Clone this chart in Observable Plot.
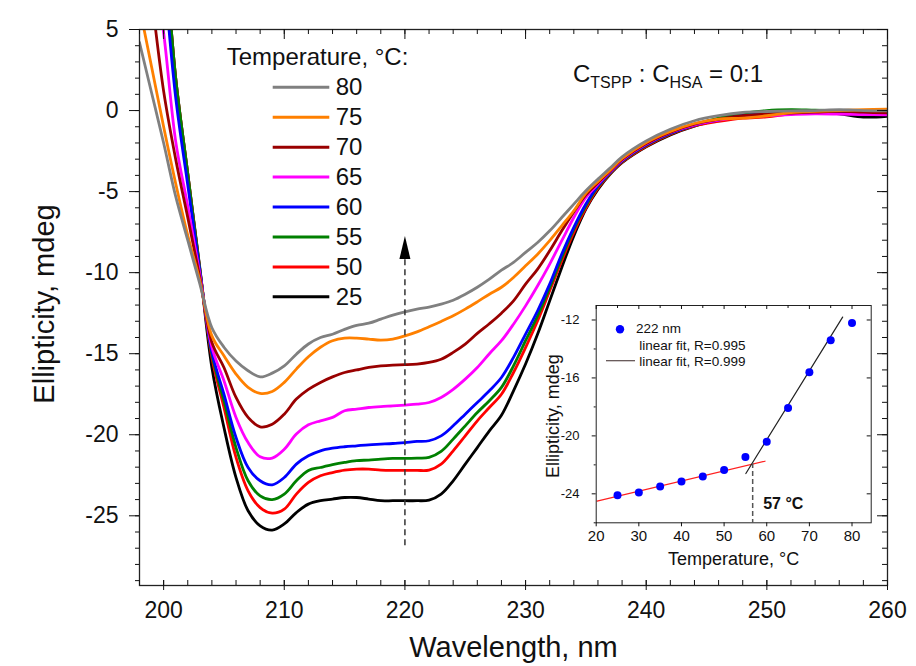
<!DOCTYPE html>
<html><head><meta charset="utf-8">
<script src="https://cdn.jsdelivr.net/npm/d3@7"></script>
<script src="https://cdn.jsdelivr.net/npm/@observablehq/plot@0.6"></script>
<style>
body{margin:0;background:#fff;font-family:"Liberation Sans",Arial,sans-serif;}
#wrap{position:relative;width:916px;height:666px;overflow:hidden;}
#wrap svg{position:absolute;}
</style></head><body><div id="wrap"></div>
<script>
// ---------- main chart data ----------
const wavelengths = [198,199,200,201,202,203,204,205,206,207,208,209,210,211,212,213,214,215,216,217,218,219,220,221,222,223,224,225,226,227,228,229,230,231,232,233,234,235,236,237,238,240,242,244,246,248,250,252,254,256,258,260];
const temps = ["80","75","70","65","60","55","50","25"];
const colors = ["#808080","#ff8000","#990000","#ff00ff","#0000ff","#008000","#ff0000","#000000"];
const t80 = [4.2,1.1,-2.0,-5.3,-8.0,-10.7,-13.4,-14.6,-15.45,-16.05,-16.43,-16.2,-15.75,-15.03,-14.4,-14.0,-13.8,-13.5,-13.25,-13.12,-12.87,-12.62,-12.42,-12.25,-12.12,-11.94,-11.7,-11.33,-10.9,-10.4,-9.85,-9.37,-8.75,-8.14,-7.42,-6.6,-5.77,-4.95,-4.23,-3.55,-2.85,-1.87,-1.15,-0.63,-0.32,-0.12,-0.06,-0.02,0.0,0.05,0.0,-0.02];
const t75 = [6.4,2.7,-1.0,-4.5,-7.7,-10.5,-13.9,-15.13,-16.26,-17.08,-17.45,-17.33,-16.77,-15.95,-15.19,-14.6,-14.2,-14.04,-14.04,-14.1,-14.16,-14.1,-13.9,-13.65,-13.34,-13.01,-12.66,-12.25,-11.8,-11.33,-10.9,-10.3,-9.58,-8.86,-8.03,-7.11,-6.18,-5.1,-4.37,-3.68,-2.96,-1.97,-1.29,-0.8,-0.53,-0.47,-0.32,-0.12,-0.05,0.0,0.05,0.09];
const t70 = [12.5,7.0,1.2,-3.0,-6.6,-10.3,-14.3,-15.85,-17.7,-18.93,-19.51,-19.35,-18.73,-17.8,-17.2,-16.77,-16.43,-16.16,-16.0,-15.85,-15.75,-15.7,-15.68,-15.64,-15.54,-15.34,-14.92,-14.41,-13.75,-13.15,-12.5,-11.74,-10.71,-9.78,-8.65,-7.42,-6.25,-5.2,-4.46,-3.74,-3.02,-2.03,-1.33,-0.84,-0.55,-0.32,-0.22,-0.15,-0.1,-0.05,-0.1,-0.15];
const t65 = [18,10,4.8,-1.9,-5.9,-10.1,-14.6,-16.67,-18.93,-20.48,-21.36,-21.44,-20.9,-19.96,-19.39,-19.14,-18.93,-18.52,-18.42,-18.32,-18.26,-18.22,-18.17,-18.11,-18.01,-17.7,-17.2,-16.57,-15.85,-15.0,-14.2,-13.18,-12.05,-10.81,-9.47,-8.03,-6.6,-5.36,-4.54,-3.78,-3.06,-2.07,-1.35,-0.88,-0.59,-0.39,-0.32,-0.25,-0.2,-0.22,-0.25,-0.26];
const t60 = [22,15,8.5,0.8,-4.6,-9.9,-14.9,-17.5,-20.17,-22.02,-22.84,-23.09,-22.64,-21.81,-21.3,-20.99,-20.83,-20.74,-20.68,-20.62,-20.58,-20.54,-20.48,-20.41,-20.37,-20.07,-19.45,-18.73,-18.01,-17.29,-16.47,-15.23,-13.79,-12.35,-10.71,-8.86,-7.21,-5.77,-4.64,-3.82,-3.1,-2.11,-1.4,-0.9,-0.59,-0.32,-0.22,-0.12,-0.08,-0.05,-0.1,-0.12];
const t55 = [24,17,10.5,2.0,-3.9,-9.8,-15.03,-17.9,-20.79,-22.84,-23.77,-24.0,-23.66,-22.84,-22.2,-22.02,-21.85,-21.71,-21.6,-21.56,-21.5,-21.46,-21.46,-21.44,-21.4,-21.03,-20.27,-19.45,-18.63,-17.9,-17.08,-15.75,-14.2,-12.66,-10.91,-9.06,-7.32,-5.88,-4.7,-3.86,-3.14,-2.15,-1.42,-0.88,-0.47,-0.18,0.0,0.05,0.02,0.0,-0.05,-0.1];
const t50 = [24,17,10.5,2.0,-3.9,-9.8,-15.23,-18.32,-21.4,-23.46,-24.5,-24.84,-24.59,-23.66,-22.94,-22.53,-22.33,-22.18,-22.12,-22.12,-22.18,-22.2,-22.2,-22.2,-22.18,-21.81,-20.99,-20.07,-19.14,-18.32,-17.5,-16.16,-14.62,-12.97,-11.12,-9.27,-7.52,-6.02,-4.79,-3.9,-3.18,-2.2,-1.46,-0.94,-0.67,-0.47,-0.39,-0.2,-0.1,-0.05,-0.1,-0.12];
const t25 = [24,17,10.5,2.0,-3.9,-9.7,-15.85,-19.55,-22.64,-24.69,-25.62,-25.88,-25.5,-24.8,-24.28,-24.07,-23.97,-23.87,-23.87,-23.97,-24.07,-24.07,-24.07,-24.07,-24.03,-23.66,-22.84,-21.81,-20.79,-19.76,-18.8,-17.29,-15.64,-13.79,-11.74,-9.68,-7.73,-6.08,-4.87,-3.94,-3.22,-2.24,-1.5,-0.96,-0.59,-0.32,-0.18,-0.1,-0.1,-0.2,-0.4,-0.35];
const seriesValues = [t80,t75,t70,t65,t60,t55,t50,t25];

const xMajor = [200,210,220,230,240,250,260];
const xMinor = d3.range(198, 261, 2);
const yMajor = [-25,-20,-15,-10,-5,0,5];
const yMinor = d3.range(-29, 6, 1);

// arrow (direction of temperature increase)
const arrowX = [220];
const arrowFrom = -26.85, arrowTip = -7.74;

// ---------- inset data ----------
const insetTemps = [25,30,35,40,45,50,55,60,65,70,75,80];
const insetEll = [-24.1,-23.9,-23.5,-23.15,-22.8,-22.35,-21.45,-20.4,-18.07,-15.6,-13.4,-12.2];
const fitLowT = [20.2,59.6], fitLowE = [-24.5,-21.75];
const fitHighT = [55.1,77.8], fitHighE = [-22.6,-11.8];
const breakT = 56.7, breakE = -21.9, breakLabel = "57 °C";
const insetXTicks = [20,30,40,50,60,70,80];
const insetXMinor = [25,35,45,55,65,75];
const insetYTicks = [-24,-20,-16,-12];
const insetYMinor = [-26,-22,-18,-14];

// ---------- build rows ----------
const rows = [];
for (let i = temps.length - 1; i >= 0; i--) {
  wavelengths.forEach((w, j) => rows.push({t: temps[i], w, v: seriesValues[i][j]}));
}

const FONT = "Liberation Sans, Arial, sans-serif";
const W = 916, H = 666, mL = 139, mT = 29, mR = 29, mB = 81;
const pw = W - mL - mR, ph = H - mT - mB;
const tri = {draw(ctx) { ctx.moveTo(0, 0); ctx.lineTo(5.5, 23); ctx.lineTo(-5.5, 23); ctx.closePath(); }};

const main = Plot.plot({
  width: W, height: H, marginLeft: mL, marginTop: mT, marginRight: mR, marginBottom: mB,
  style: {fontFamily: FONT, background: "transparent", color: "#111"},
  x: {domain: [198, 260]},
  y: {domain: [-29.3, 5]},
  color: {domain: temps, range: colors},
  marks: [
    Plot.line(rows, {x: "w", y: "v", z: "t", stroke: "t", strokeWidth: 2.8, curve: "catmull-rom", clip: true}),
    Plot.ruleX(arrowX, {x: d => d, y1: arrowFrom, y2: arrowTip - 1.2, stroke: "#333", strokeWidth: 1.5, strokeDasharray: "6,4"}),
    Plot.dot(arrowX, {x: d => d, y: arrowTip, symbol: tri, fill: "#000", stroke: "none"}),
    Plot.frame({stroke: "#222", strokeWidth: 1.3}),
    Plot.tickX(xMajor, {x: d => d, insetTop: ph - 5, insetBottom: -5}),
    Plot.tickX(xMinor, {x: d => d, insetTop: ph - 5}),
    Plot.tickX(xMajor, {x: d => d, insetBottom: ph - 10}),
    Plot.tickX(xMinor, {x: d => d, insetBottom: ph - 5}),
    Plot.tickY(yMajor, {y: d => d, insetLeft: -10, insetRight: pw}),
    Plot.tickY(yMinor, {y: d => d, insetLeft: -4, insetRight: pw}),
    Plot.tickY(yMajor, {y: d => d, insetLeft: pw - 10}),
    Plot.tickY(yMinor, {y: d => d, insetLeft: pw - 5}),
    Plot.axisX({ticks: xMajor, tickSize: 0, tickPadding: 15.7, fontSize: 23, tickFormat: d => String(d), label: null}),
    Plot.axisY({ticks: yMajor, tickSize: 0, tickPadding: 21, fontSize: 23, tickFormat: d => String(d), label: null}),
    Plot.text(["Wavelength, nm"], {frameAnchor: "bottom", dy: 71, lineAnchor: "bottom", fontSize: 29, fill: "#111"}),
    Plot.text(["Ellipticity, mdeg"], {frameAnchor: "left", textAnchor: "middle", rotate: -90, dx: -85.7, dy: -3.5, lineAnchor: "bottom", fontSize: 29, fill: "#111"})
  ]
});
main.style.left = "0px"; main.style.top = "0px";
document.getElementById("wrap").appendChild(main);

// ---------- inset ----------
const iW = 350, iH = 280, imL = 65.7, imT = 10, imR = 9.3, imB = 52.7;
const ipw = iW - imL - imR, iph = iH - imT - imB;
const inset = Plot.plot({
  width: iW, height: iH, marginLeft: imL, marginTop: imT, marginRight: imR, marginBottom: imB,
  style: {fontFamily: FONT, background: "transparent", color: "#111"},
  x: {domain: [20, 84.5]},
  y: {domain: [-26, -11]},
  marks: [
    Plot.line(fitLowT.map((t, i) => ({t, e: fitLowE[i]})), {x: "t", y: "e", stroke: "#ff2020", strokeWidth: 1.2}),
    Plot.line(fitHighT.map((t, i) => ({t, e: fitHighE[i]})), {x: "t", y: "e", stroke: "#222", strokeWidth: 1.2}),
    Plot.ruleX([breakT], {x: d => d, y1: breakE, y2: -26, stroke: "#555", strokeWidth: 1.5, strokeDasharray: "5,3"}),
    Plot.dot(insetTemps.map((t, i) => ({t, e: insetEll[i]})), {x: "t", y: "e", r: 4, fill: "#0000ff", stroke: "none"}),
    Plot.text([breakLabel], {x: breakT, y: -25.03, dx: 10.5, textAnchor: "start", lineAnchor: "bottom", fontSize: 16, fontWeight: "bold", fill: "#111"}),
    Plot.frame({stroke: "#222", strokeWidth: 1}),
    Plot.tickX(insetXTicks, {x: d => d, insetTop: iph, insetBottom: -4}),
    Plot.tickX(insetXTicks, {x: d => d, insetBottom: iph - 4}),
    Plot.tickX(insetXMinor, {x: d => d, insetBottom: iph - 3}),
    Plot.tickY(insetYTicks, {y: d => d, insetLeft: -4, insetRight: ipw}),
    Plot.tickY(insetYMinor, {y: d => d, insetLeft: -2, insetRight: ipw}),
    Plot.tickY(insetYTicks, {y: d => d, insetLeft: ipw - 4}),
    Plot.axisX({ticks: insetXTicks, tickSize: 0, tickPadding: 8, fontSize: 15, tickFormat: d => String(d), label: null}),
    Plot.axisY({ticks: insetYTicks, tickSize: 0, tickPadding: 16.7, fontSize: 13, tickFormat: d => String(d), label: null}),
    Plot.text(["Temperature, °C"], {frameAnchor: "bottom", dy: 41.7, lineAnchor: "bottom", fontSize: 18, fill: "#111"}),
    Plot.text(["Ellipticity, mdeg"], {frameAnchor: "left", textAnchor: "middle", rotate: -90, dx: -37, dy: 2, lineAnchor: "bottom", fontSize: 18, fill: "#111"})
  ]
});
inset.style.left = "530px"; inset.style.top = "295px";
document.getElementById("wrap").appendChild(inset);

// ---------- legends & annotations ----------
const ov = d3.select("#wrap").append("svg")
  .attr("width", W).attr("height", H)
  .style("left", "0px").style("top", "0px")
  .attr("font-family", FONT).attr("fill", "#111");

ov.append("text").attr("x", 226.7).attr("y", 65).attr("font-size", 24).text("Temperature, °C:");
temps.forEach((t, i) => {
  const y = 87.3 + i * 29.93;
  ov.append("line").attr("x1", 272.7).attr("x2", 329.3).attr("y1", y).attr("y2", y)
    .attr("stroke", colors[i]).attr("stroke-width", 3);
  ov.append("text").attr("x", 335.7).attr("y", y + 7.7).attr("font-size", 24).text(t);
});

const ann = ov.append("text").attr("x", 573).attr("y", 81.7).attr("font-size", 24);
ann.append("tspan").text("C");
ann.append("tspan").attr("font-size", 16).attr("dy", 6.5).text("TSPP");
ann.append("tspan").attr("dy", -6.5).text(" : C");
ann.append("tspan").attr("font-size", 16).attr("dy", 6.5).text("HSA");
ann.append("tspan").attr("dy", -6.5).text(" = 0:1");

// inset legend
ov.append("circle").attr("cx", 620).attr("cy", 329.3).attr("r", 4.2).attr("fill", "#0000ff");
ov.append("text").attr("x", 636).attr("y", 333.3).attr("font-size", 13.5).text("222 nm");
ov.append("text").attr("x", 639.3).attr("y", 350).attr("font-size", 13.5).text("linear fit, R=0.995");
ov.append("line").attr("x1", 606).attr("x2", 635).attr("y1", 360.7).attr("y2", 360.7).attr("stroke", "#5a4a4a").attr("stroke-width", 1.2);
ov.append("text").attr("x", 639.3).attr("y", 366).attr("font-size", 13.5).text("linear fit, R=0.999");
</script>
</body></html>
